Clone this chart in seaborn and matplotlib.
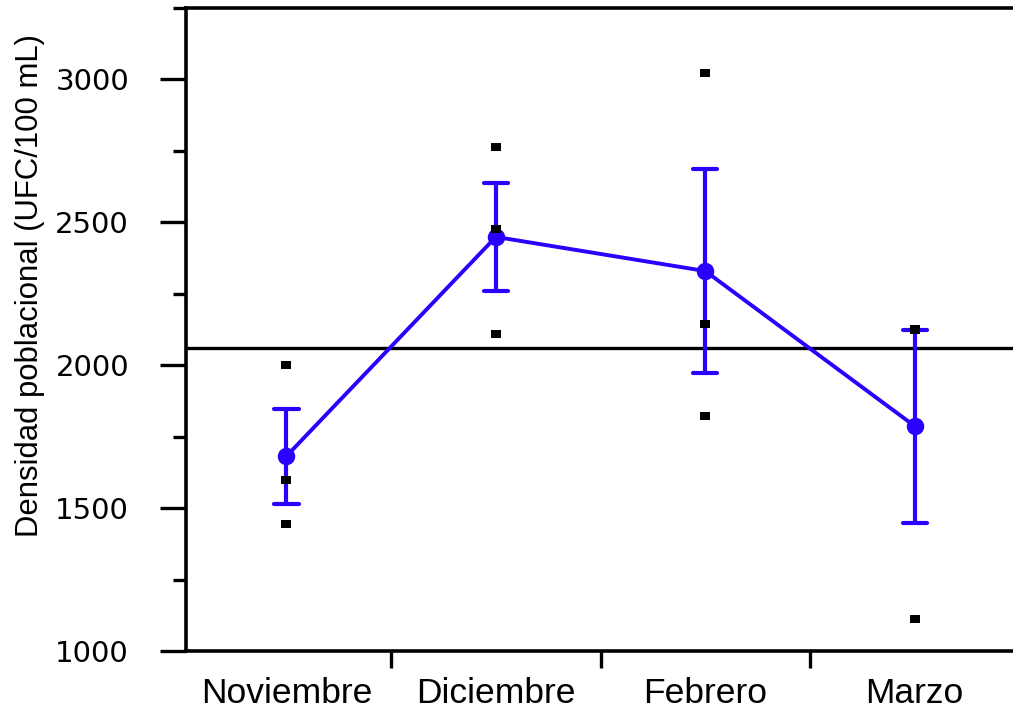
import numpy as np
import pandas as pd
import matplotlib
matplotlib.use("Agg")
import matplotlib.pyplot as plt
import seaborn as sns
from matplotlib.ticker import FixedLocator, MultipleLocator

# Monthly population density replicates (UFC/100 mL)
meses = ["Noviembre", "Diciembre", "Febrero", "Marzo"]
noviembre = [2002, 1599, 1445]
diciembre = [2762, 2475, 2110]
febrero = [3021, 2145, 1823]
marzo = [2128, 2122, 1112]

y_ticks = [1000, 1500, 2000, 2500, 3000]
y_label = "Densidad poblacional (UFC/100 mL)"

series = [noviembre, diciembre, febrero, marzo]
df = pd.DataFrame({
    "mes": [m for m, vals in zip(meses, series) for _ in vals],
    "densidad": [v for vals in series for v in vals],
})

sns.set_theme(style="white")
plt.rcParams["font.family"] = ["Liberation Sans", "DejaVu Sans"]
plt.rcParams["text.color"] = "black"
plt.rcParams["axes.labelcolor"] = "black"
plt.rcParams["xtick.color"] = "black"
plt.rcParams["ytick.color"] = "black"

azul = "#2b00ff"

fig = plt.figure(figsize=(10.13, 7.14), dpi=100)
ax = fig.add_axes([0.1836, 0.0882, 0.8164, 0.9006])

# grand mean reference line
ax.axhline(df["densidad"].mean(), color="black", lw=2.4, zorder=1)

# mean +/- standard error per month
sns.pointplot(data=df, x="mes", y="densidad", order=meses, errorbar="se",
              color=azul, markers="o", markersize=10.5, linewidth=2.8,
              capsize=0.115, err_kws={"linewidth": 3.0}, ax=ax)

# individual replicates as small black rectangles
rect = [(-1.3, -1.0), (1.3, -1.0), (1.3, 1.0), (-1.3, 1.0), (-1.3, -1.0)]
n_before = len(ax.collections)
sns.stripplot(data=df, x="mes", y="densidad", order=meses, jitter=False,
              color="black", marker=rect, size=7.0, linewidth=0, ax=ax)
for coll in ax.collections[n_before:]:
    coll.set_zorder(6)

ax.set_xlim(-0.48, 3.47)
ax.set_ylim(1000, 3250)

# y axis
ax.yaxis.set_major_locator(FixedLocator(y_ticks))
ax.yaxis.set_minor_locator(MultipleLocator(250))
ax.set_yticklabels([str(t) for t in y_ticks], family="DejaVu Sans", fontsize=21)
ax.tick_params(axis="y", which="major", direction="out", length=19, width=2.4,
               pad=22, color="black", left=True)
ax.tick_params(axis="y", which="minor", direction="out", length=9.5, width=2.4,
               color="black", left=True)

# x axis: labels at category centres, ticks between categories
ax.xaxis.set_minor_locator(FixedLocator([0.5, 1.5, 2.5]))
ax.tick_params(axis="x", which="major", length=0, pad=19, labelsize=25.5)
ax.tick_params(axis="x", which="minor", direction="out", length=12, width=2.4,
               color="black", bottom=True)
ax.set_xlabel("")

ax.set_ylabel(y_label, fontsize=22.4, color="black")
ax.yaxis.set_label_coords(-0.1705, 0.569)

for side in ["left", "top", "bottom"]:
    ax.spines[side].set_visible(True)
    ax.spines[side].set_color("black")
    ax.spines[side].set_linewidth(2.6)
ax.spines["right"].set_visible(False)

fig.savefig("out.png", dpi=100)
